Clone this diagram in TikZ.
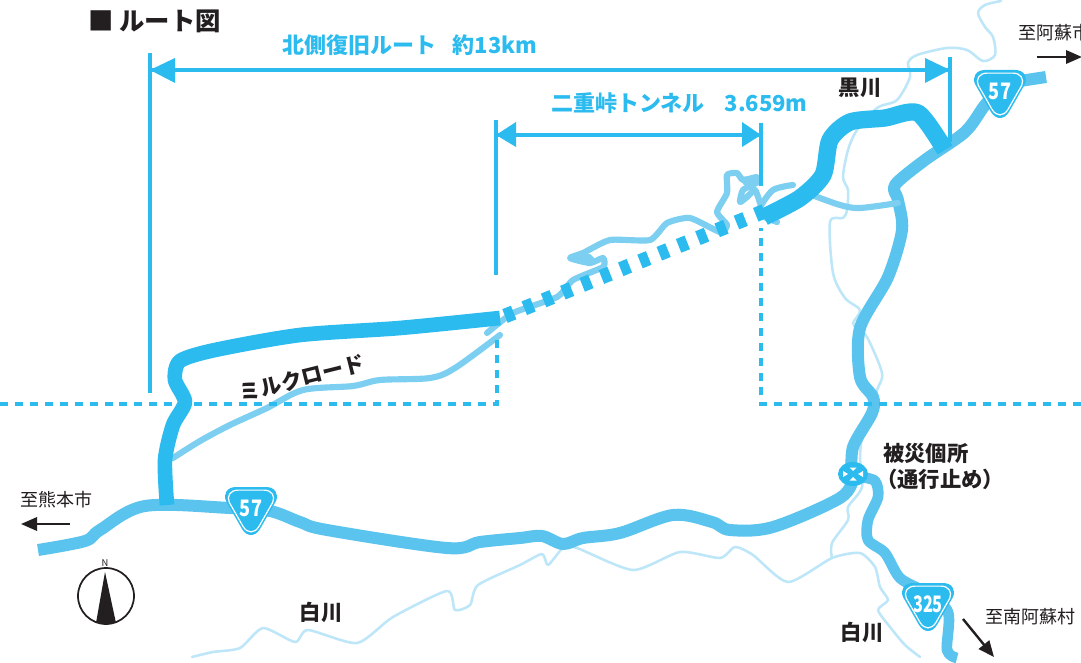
\documentclass[tikz,border=0pt]{standalone}
\usepackage{fontspec}
\setmainfont{Noto Sans CJK JP}
\usetikzlibrary{arrows.meta}
\definecolor{cy}{HTML}{2CBBEF}
\definecolor{rd}{HTML}{5AC4EE}
\definecolor{rdl}{HTML}{7CCFF1}
\definecolor{rv}{HTML}{BDE6F8}
\definecolor{ink}{HTML}{231F20}
\tikzset{
 road/.style={draw=rd,line width=9pt,line join=round},
 thick route/.style={draw=cy,line width=11pt,line join=round},
 thin road/.style={draw=rdl,line width=4.6pt,line join=round,line cap=round},
 river/.style={draw=rv,line width=1.9pt,line join=round,line cap=round},
 dimline/.style={draw=cy,line width=2.3pt},
 bound/.style={draw=cy,line width=2.3pt,dash pattern=on 6pt off 5.2pt},
 dimtip/.style={draw=none,fill=cy},
 blab/.style={text=cy,font=\fontsize{16.5}{18}\selectfont\bfseries,inner sep=0pt,anchor=west},
 klab/.style={text=ink,font=\fontsize{16}{18}\selectfont\bfseries,inner sep=0pt},
 rlab/.style={text=ink,font=\fontsize{13.5}{16}\selectfont,inner sep=0pt},
 blackarrow/.style={draw=ink,line width=1.8pt,-{Triangle[length=12pt,width=10pt]}},
 shieldnum/.style={text=white,inner sep=0pt,font=\fontsize{17}{18}\selectfont\bfseries},
}
\newcommand{\myshield}[4]{%
 \begin{scope}[shift={(#1,#2)}]
  \fill[cy] (-15,-24) -- (15,-24) .. controls (24,-24) and (28,-17) .. (25,-10) -- (9,18) .. controls (4,26) and (-4,26) .. (-9,18) -- (-25,-10) .. controls (-28,-17) and (-24,-24) .. (-15,-24) -- cycle;
  \draw[white,line width=.9pt,scale=.87] (-15,-24) -- (15,-24) .. controls (24,-24) and (28,-17) .. (25,-10) -- (9,18) .. controls (4,26) and (-4,26) .. (-9,18) -- (-25,-10) .. controls (-28,-17) and (-24,-24) .. (-15,-24) -- cycle;
  \node[shieldnum,xscale=#4] (#3) at (0,-3) {#3};
 \end{scope}}
\begin{document}
\begin{tikzpicture}[x=0.75pt,y=-0.75pt]
\useasboundingbox (0,0) rectangle (1081,663);
\fill[white] (0,0) rectangle (1081,663);
% rivers
\draw[river] plot[smooth,tension=.5] coordinates {(1001,1) (985,5) (978,13) (985,27) (993,37) (995,55) (983,61) (967,50) (947,48) (917,55) (908,63) (910,77) (897,100) (877,108) (857,130) (848,150) (843,177) (848,190) (847,210) (843,218) (830,222) (833,273) (845,298) (860,310) (853,323) (857,328) (867,337) (882,373) (877,390) (872,410) (863,433) (860,457) (862,487) (848,507) (848,520) (832,543) (832,558)};
\draw[river] plot[smooth,tension=.4] coordinates {(192,657) (213,652) (240,648) (263,628) (295,642) (308,630) (357,643) (393,617) (447,591) (455,610) (470,605) (478,585) (520,565) (542,554) (548,565) (563,548) (577,548) (633,570) (680,552) (720,558) (735,547) (753,555) (788,582) (832,558) (860,553) (875,567) (880,587) (888,600) (878,610) (890,627) (905,645) (920,657)};
% roads
\draw[road] plot[smooth,tension=.55] coordinates {(38,550) (85,541) (100,530) (145,506) (230,508) (270,511) (300,522) (327,530) (447,548) (480,542) (520,538) (542,536) (563,544) (583,538) (620,533) (673,515) (712,522) (730,530) (773,527) (840,498) (853,478)};
\draw[road] plot[smooth,tension=.5] coordinates {(852,475) (853,447) (872,413) (873,397) (860,377) (860,328) (888,277) (902,230) (898,200) (895,185) (925,160) (965,132) (985,105) (1000,90)};
\draw[road] (1020,81) -- (1046,77);
\draw[road,line width=8pt] plot[smooth,tension=.5] coordinates {(860,477) (875,481) (878,497) (868,520) (868,540) (885,553) (900,578) (925,592) (948,612) (947,650) (957,658)};
\draw[thin road] plot[smooth,tension=.5] coordinates {(173,458) (200,441) (230,425) (267,408) (303,390) (353,386) (380,380) (430,378) (455,368) (500,335)};
\draw[thin road] plot[smooth,tension=.5] coordinates {(812,195) (840,205) (860,208) (898,203)};
\draw[thin road] plot[smooth,tension=.35] coordinates {(487,333) (513,313) (557,297) (573,280) (603,267) (603,258) (590,263) (570,258) (583,253) (610,240) (650,240) (667,223) (690,218) (720,232) (727,225) (717,212) (727,193) (727,175) (737,173) (743,180) (757,177) (758,182) (743,190) (740,202) (747,197) (755,190) (760,203)};
\draw[thin road] plot[smooth,tension=.5] coordinates {(760,207) (773,190) (793,185)};
\draw[thin road] (766,218) -- (777,222);
\fill[rdl] (737,177) -- (758,176) -- (757,186) -- (745,186) -- cycle;
\fill[rdl] (571,255) -- (590,254) -- (598,262) -- (574,262) -- cycle;
% boundaries
\draw[bound] (0,404) -- (497,404) -- (497,335);
\draw[bound] (1081,404) -- (761,404) -- (761,228);
% dimension lines
\draw[dimline] (150,53) -- (150,393);
\draw[dimline] (950,57) -- (950,142);
\draw[dimline] (150,70) -- (950,70);
\fill[dimtip] (150,70) -- (175,58) -- (175,83) -- cycle;
\fill[dimtip] (950,70) -- (925,58) -- (925,83) -- cycle;
\draw[dimline] (496,120) -- (496,275);
\draw[dimline] (761,123) -- (761,186);
\draw[dimline] (496,135) -- (761,135);
\fill[dimtip] (496,135) -- (516,122) -- (516,147) -- cycle;
\fill[dimtip] (761,135) -- (742,122) -- (742,147) -- cycle;
% route
\draw[thick route] plot[smooth,tension=.45] coordinates {(167,505) (165,460) (173,425) (185,402) (175,380) (180,361) (215,350) (300,335) (400,328) (500,318)};
\draw[thick route,dash pattern=on 7pt off 8.6pt,line width=11pt] (505,316) -- (770,209);
\draw[thick route,line width=13pt] plot[smooth,tension=.45] coordinates {(764,217) (800,198) (823,175) (830,140) (850,122) (885,118) (918,113) (945,150)};
% crossing
\fill[cy] (853,474) ellipse [x radius=15,y radius=12];
\fill[white] (849.5,467.5) -- (856.5,467.5) -- (853,471) -- cycle;
\fill[white] (849.5,480.5) -- (856.5,480.5) -- (853,477) -- cycle;
\fill[white] (843,471) -- (843,477) -- (848,474) -- cycle;
\fill[white] (863,471) -- (863,477) -- (858,474) -- cycle;
% shields
\myshield{1000}{94}{57}{.8}
\myshield{251}{511}{57}{.8}
\myshield{928}{607}{325}{.72}
% compass
\draw[ink,line width=1.3pt] (106,596) circle [radius=28];
\fill[ink] (105,572) -- (116,623) -- (96,623) -- cycle;
\node[text=ink,font=\fontsize{7}{8}\selectfont,inner sep=0pt] (north) at (105,563) {N};
% arrows
\coordinate (aso1) at (1037,57); \coordinate (aso2) at (1082,57);
\draw[blackarrow] (aso1) -- (aso2);
\coordinate (kum1) at (70,524); \coordinate (kum2) at (21,524);
\draw[blackarrow] (kum1) -- (kum2);
\coordinate (mi1) at (963,619); \coordinate (mi2) at (994,657);
\draw[blackarrow] (mi1) -- (mi2);
% labels
\node[text=ink,font=\fontsize{19}{20}\selectfont\bfseries,inner sep=0pt,anchor=west] (title) at (88,21) {■ ルート図};
\node[blab] (l1) at (282,45) {北側復旧ルート\hspace{.75em}約13km};
\node[blab] (l2) at (551,103) {二重峠トンネル\hspace{.9em}3.659m};
\node[klab] (kuro) at (860,88) {黒川};
\node[klab,rotate=14] (milk) at (302,378) {ミルクロード};
\node[klab,anchor=west] (hi1) at (883,453) {被災個所};
\node[klab,anchor=west] (hi2) at (876,479) {（通行止め）};
\node[klab] (shi1) at (321,612) {白川};
\node[klab] (shi2) at (862,632) {白川};
\node[rlab,anchor=west] (t1) at (20,500) {至熊本市};
\node[rlab,anchor=west] (t2) at (1018,33) {至阿蘇市};
\node[rlab,anchor=west] (t3) at (985,617) {至南阿蘇村};
\end{tikzpicture}
\end{document}
